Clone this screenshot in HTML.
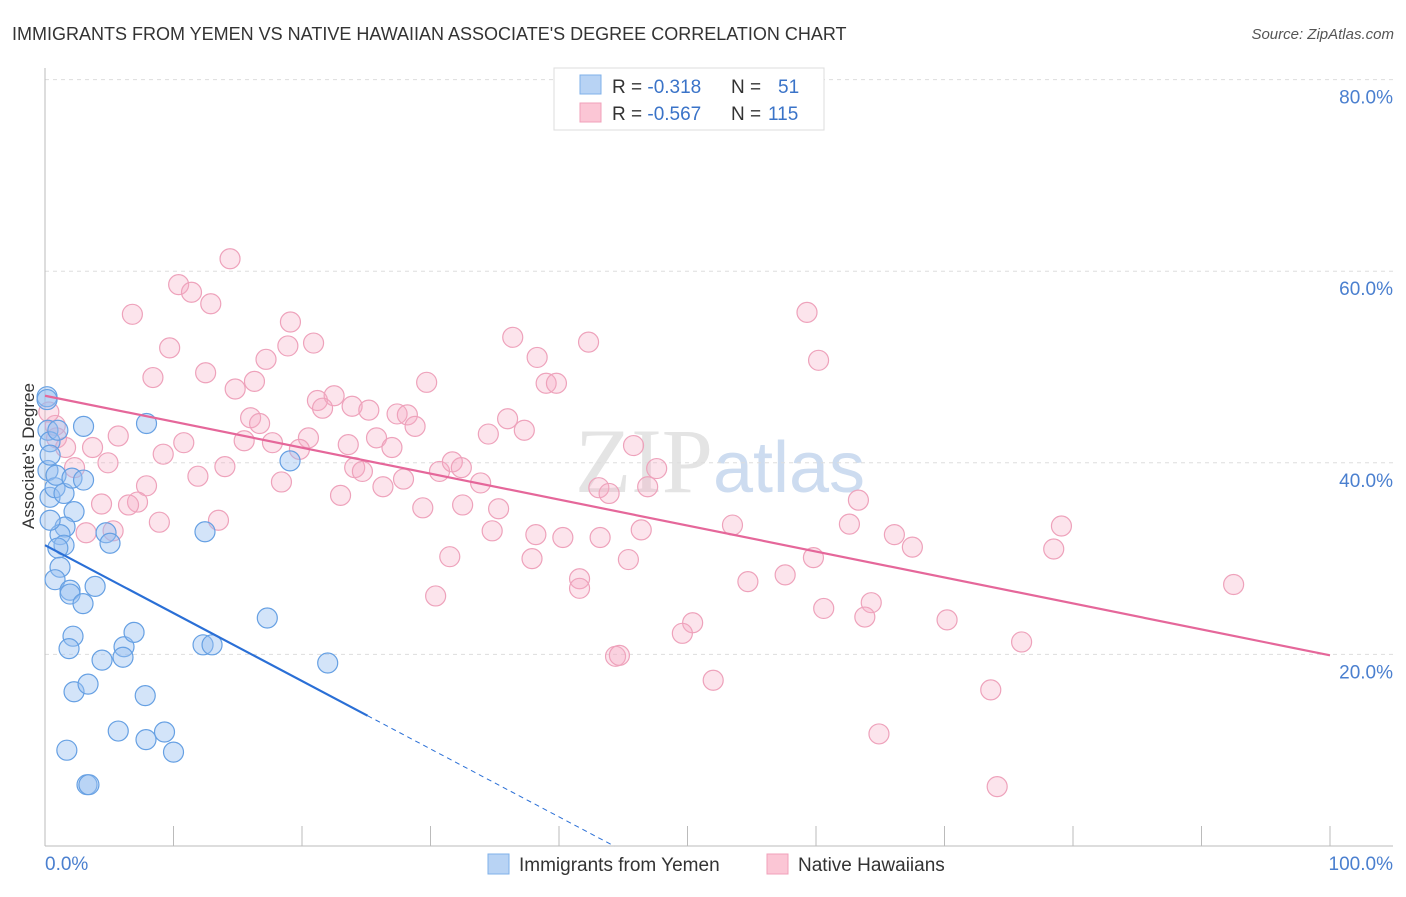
<!DOCTYPE html>
<html><head><meta charset="utf-8"><style>
body{margin:0;background:#fff;font-family:"Liberation Sans",sans-serif}
</style></head><body>
<svg id="chart" width="1406" height="892" xmlns="http://www.w3.org/2000/svg" font-family="Liberation Sans, sans-serif">
<text x="12" y="40" font-size="18" fill="#333">IMMIGRANTS FROM YEMEN VS NATIVE HAWAIIAN ASSOCIATE'S DEGREE CORRELATION CHART</text>
<text x="1394" y="39" font-size="15" fill="#555" text-anchor="end" font-style="italic">Source: ZipAtlas.com</text>
<text x="720" y="492" font-size="92" text-anchor="middle" fill="#e4e4e4" font-family="Liberation Serif, serif">ZIP<tspan fill="#cddcf0" font-family="Liberation Sans, sans-serif" font-size="72">atlas</tspan></text>
<g id="grid"></g><g id="axes"></g><g id="pts"></g><g id="trend"></g>
<text transform="translate(34,456) rotate(-90)" font-size="17" fill="#333" text-anchor="middle">Associate's Degree</text>
<g>
<rect x="554" y="68" width="270" height="62" fill="#fff" stroke="#ddd"/>
<rect x="580" y="75" width="21" height="19" fill="#b8d3f4" stroke="#7fb0ea"/>
<rect x="580" y="103" width="21" height="19" fill="#fbc6d5" stroke="#f0a0ba"/>
<text x="612" y="93" font-size="19" fill="#333">R = <tspan fill="#3a73c8">-0.318</tspan><tspan x="731">N = </tspan><tspan x="778" fill="#3a73c8">51</tspan></text>
<text x="612" y="120" font-size="19" fill="#333">R = <tspan fill="#3a73c8">-0.567</tspan><tspan x="731">N = </tspan><tspan x="768" fill="#3a73c8">115</tspan></text>
</g>
<g>
<rect x="488" y="854" width="21" height="20" fill="#b8d3f4" stroke="#7fb0ea"/>
<text x="519" y="871" font-size="19" fill="#333">Immigrants from Yemen</text>
<rect x="767" y="854" width="21" height="20" fill="#fbc6d5" stroke="#f0a0ba"/>
<text x="798" y="871" font-size="19" fill="#333">Native Hawaiians</text>
</g>
<script>
const yTicks=[20,40,60,80];
const yTickLabels=["20.0%","40.0%","60.0%","80.0%"];
const blueX=[0.16,0.23,0.39,0.23,0.39,0.78,1.48,3.0,7.9,0.86,2.1,3.0,2.26,1.56,1.17,1.48,1.0,1.17,0.78,1.95,1.95,2.96,3.9,4.75,5.06,2.18,1.87,4.44,6.15,6.07,6.93,12.45,19.07,12.3,13.0,17.3,22.0,2.26,3.35,7.8,1.7,5.7,7.86,9.3,10.0,3.27,3.42,0.16,0.4,1.0,0.4];
const blueY=[46.9,43.4,42.2,39.2,36.4,37.4,36.8,43.8,44.1,38.7,38.4,38.2,34.9,33.3,32.5,31.4,31.1,29.1,27.8,26.7,26.3,25.3,27.1,32.7,31.6,21.9,20.6,19.4,20.8,19.7,22.3,32.8,40.2,21.0,21.0,23.8,19.1,16.1,16.9,15.7,10.0,12.0,11.1,11.9,9.8,6.4,6.4,46.6,40.8,43.4,34.0];
const pinkX=[14.4,10.4,11.4,12.9,6.8,19.1,9.7,18.9,20.9,8.4,12.5,17.2,14.8,16.3,36.4,38.3,42.3,29.7,39.0,39.8,59.3,60.2,16.0,16.7,21.2,22.5,21.6,23.9,25.2,27.4,28.2,28.8,36.0,37.3,34.5,5.7,10.8,9.2,4.9,17.7,15.5,20.5,19.8,23.6,25.8,27.0,45.8,2.3,3.7,0.9,1.6,0.8,0.3,11.9,14.0,24.1,24.7,27.9,30.7,31.7,32.4,33.9,26.3,18.4,23.0,7.9,7.2,6.5,5.3,4.4,8.9,13.5,29.4,32.5,35.3,47.6,46.9,43.1,43.9,34.8,38.2,40.3,43.2,46.4,53.5,62.6,63.3,66.1,67.5,79.1,78.5,31.5,37.9,45.4,41.6,41.6,54.7,57.6,59.8,30.4,92.5,64.3,60.6,63.8,70.2,50.4,49.6,76.0,44.4,44.7,52.0,73.6,64.9,74.1,3.2];
const pinkY=[61.3,58.6,57.8,56.6,55.5,54.7,52.0,52.2,52.5,48.9,49.4,50.8,47.7,48.5,53.1,51.0,52.6,48.4,48.3,48.3,55.7,50.7,44.7,44.1,46.5,47.0,45.7,45.9,45.5,45.1,45.0,43.8,44.6,43.4,43.0,42.8,42.1,40.9,40.0,42.1,42.3,42.6,41.4,41.9,42.6,41.6,41.8,39.5,41.6,42.6,41.6,43.9,45.3,38.6,39.6,39.5,39.1,38.3,39.1,40.1,39.5,37.9,37.5,38.0,36.6,37.6,35.9,35.6,32.9,35.7,33.8,34.0,35.3,35.6,35.2,39.4,37.5,37.4,36.8,32.9,32.5,32.2,32.2,33.0,33.5,33.6,36.1,32.5,31.2,33.4,31.0,30.2,30.0,29.9,27.9,26.9,27.6,28.3,30.1,26.1,27.3,25.4,24.8,23.9,23.6,23.3,22.2,21.3,19.8,19.9,17.3,16.3,11.7,6.2,32.7];
const pinkTrend=[47.0,19.9];
const blueTrend=[31.4,-0.709];
const NS="http://www.w3.org/2000/svg";
const X=v=>45+v*12.85, Y=v=>846-v*9.58;
function mk(p,t,a){const e=document.createElementNS(NS,t);for(const k in a)e.setAttribute(k,a[k]);p.appendChild(e);return e;}
const grid=document.getElementById('grid'),axes=document.getElementById('axes'),pts=document.getElementById('pts'),tr=document.getElementById('trend');
yTicks.forEach((t,i)=>{const l=mk(grid,'line',{x1:45,x2:1393,y1:Y(t),y2:Y(t),stroke:'#ddd','stroke-dasharray':'4,4'});


const tx=mk(grid,'text',{x:1393,y:Y(t)+24,'font-size':19,fill:'#4a7fcf','text-anchor':'end'});tx.textContent=yTickLabels[i];

});
mk(axes,'line',{x1:45,x2:45,y1:68,y2:846,stroke:'#bbb'});
mk(axes,'line',{x1:45,x2:1393,y1:846,y2:846,stroke:'#bbb'});
for(let i=0;i<=10;i++){const t=mk(axes,'line',{x1:X(i*10),x2:X(i*10),y1:826,y2:846,stroke:'#bbb'});

}
const x0=mk(axes,'text',{x:45,y:870,'font-size':19,fill:'#4a7fcf'});x0.textContent='0.0%';
const x1=mk(axes,'text',{x:1393,y:870,'font-size':19,fill:'#4a7fcf','text-anchor':'end'});x1.textContent='100.0%';
pinkX.forEach((v,i)=>{const c=mk(pts,'circle',{cx:X(v),cy:Y(pinkY[i]),r:10,fill:'rgba(247,170,196,0.32)',stroke:'#eea2bb','stroke-width':1.2});

});
blueX.forEach((v,i)=>{const c=mk(pts,'circle',{cx:X(v),cy:Y(blueY[i]),r:10,fill:'rgba(150,190,240,0.42)',stroke:'#66a0e3','stroke-width':1.2});

});
const pl=mk(tr,'line',{x1:X(0),y1:Y(pinkTrend[0]),x2:X(100),y2:Y(pinkTrend[1]),stroke:'#e5679a','stroke-width':2.2});


const bY=x=>blueTrend[0]+blueTrend[1]*x;
const bl=mk(tr,'line',{x1:X(0),y1:Y(bY(0)),x2:X(25.1),y2:Y(bY(25.1)),stroke:'#2a6fd6','stroke-width':2.2});


const bd=mk(tr,'line',{x1:X(25.1),y1:Y(bY(25.1)),x2:X(44.3),y2:Y(bY(44.3)),stroke:'#2a6fd6','stroke-width':1,'stroke-dasharray':'5,4'});


</script>
</svg>
</body></html>
